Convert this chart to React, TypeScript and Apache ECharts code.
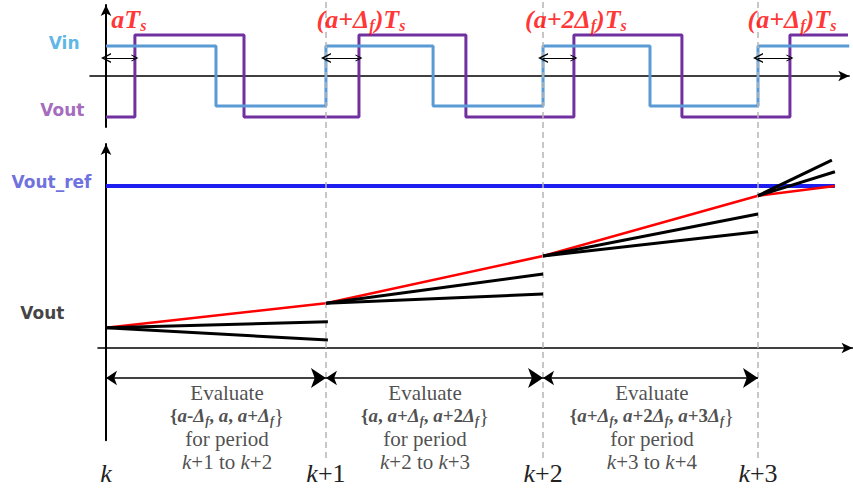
import React, { useEffect, useRef } from "react";
import * as echarts from "echarts";

// ---------- data (time in switching periods, k = 0) ----------
const periodX = [0, 1.012, 2.011, 3.0];
const periodLabels = ["k", "k+1", "k+2", "k+3"];

// top panel: square waves (normalised amplitude)
const vinEdges = [0, 0.506, 1.012, 1.505, 2.011, 2.503, 3.0, 3.42];
const vinLevels = [1, -1, 1, -1, 1, -1, 1, 1];
const voutEdges = [0, 0.133, 0.635, 1.164, 1.656, 2.153, 2.65, 3.147, 3.414];
const voutLevels = [-1.37, 1.37, -1.37, 1.37, -1.37, 1.37, -1.37, 1.37, 1.37];
const phaseSteps = [0, 1, 2, 1]; // a + n*Δf for each period
const phaseArrowY = 0.6;
const phaseLabelY = 1.87;

// bottom panel: output voltage trajectories
const refLevel = 100;
const refEndX = 3.354;
const trajX = [0, 1.012, 2.011, 3.0, 3.354];
const trajY = [12.5, 27.6, 56.8, 94.0, 100];
const candEndX = [[1.021, 1.021], [2.011, 2.011], [3.0, 3.0], [3.34, 3.354]];
const candEndY = [[16.2, 4.9], [45.7, 33.3], [82.7, 71.8], [116, 108.8]];
const candidateSets = [[-1, 0, 1], [0, 1, 2], [1, 2, 3]];
const evalX = [0.557, 1.468, 2.512];
const evalArrowY = -18.5;

// ---------- layout ----------
const W = 853;
const X0 = 106;
const PX = 217.33;
const topX = [-0.074, 3.42];
const botX = [-0.037, 3.435];
const topY = [-1.7, 2.37];
const PYT = 30;
const botY = [-57, 126];
const PYB = 1.62;

const serif = "Times New Roman, Liberation Serif, Tinos, Nimbus Roman, DejaVu Serif, serif";
const sans = "DejaVu Sans, sans-serif";

const phaseText = (n: number) => {
  if (n === 0) return "{ri|aT}{rs|s}";
  return `{ri|(a+${n > 1 ? n : ""}Δ}{rs|f}{ri|)T}{rs|s}`;
};
const termText = (n: number) => {
  if (n === 0) return "{bi|a}";
  const sign = n > 0 ? "+" : "-";
  const mult = Math.abs(n) > 1 ? String(Math.abs(n)) : "";
  return `{bi|a}{b|${sign}${mult}}{bi|Δ}{bs|f}`;
};
const evalText = (i: number) => {
  const set = candidateSets[i];
  const terms = set.map(termText).join("{b|, }");
  return [
    "{r|Evaluate}",
    "{b|{}" + terms + "{b|}}",
    "{r|for period}",
    `{ii|k}{r|+${i + 1} to }{ii|k}{r|+${i + 2}}`,
  ].join("\n");
};

const tok = (o: any) => ({ fontFamily: serif, fontStyle: "normal", fontWeight: "normal", color: "#222", ...o });

const redRich = {
  ri: tok({ fontStyle: "italic", fontWeight: "bold", fontSize: 26, color: "#ff0000", lineHeight: 28 }),
  rs: tok({ fontStyle: "italic", fontWeight: "bold", fontSize: 16, color: "#ff0000", lineHeight: 12, verticalAlign: "bottom" }),
};
const evalRich = {
  r: tok({ fontSize: 21, lineHeight: 23 }),
  b: tok({ fontSize: 19, fontWeight: "bold", lineHeight: 23 }),
  bi: tok({ fontSize: 19, fontWeight: "bold", fontStyle: "italic", lineHeight: 23 }),
  bs: tok({ fontSize: 12, fontWeight: "bold", fontStyle: "italic", lineHeight: 14, verticalAlign: "bottom" }),
  ii: tok({ fontSize: 21, fontStyle: "italic", lineHeight: 23 }),
};

const chevron = "path://M0,10 L5,0 L10,10 L8.4,10 L5,3.2 L1.6,10 Z";

const buildOption = () => {
  const vinData = vinEdges.map((x, i) => [x, vinLevels[i]]);
  const voutData = voutEdges.map((x, i) => [x, voutLevels[i]]);
  const voutRise = voutEdges.filter((_, i) => i % 2 === 1);
  const phaseArrows = periodX.map((x, i) => ({ coords: [[x, phaseArrowY], [voutRise[i], phaseArrowY]] }));
  const phaseLabels = voutRise.map((x, i) => ({
    value: [x, phaseLabelY],
    label: { formatter: () => phaseText(phaseSteps[i]), offset: [i === 0 ? -6 : 2, 0] },
  }));

  const trajData = trajX.map((x, i) => [x, trajY[i]]);
  const candLines: any[] = [];
  candEndX.forEach((ends, i) => {
    ends.forEach((ex, j) => {
      candLines.push({ coords: [[trajX[i], trajY[i]], [ex, candEndY[i][j]]] });
    });
  });
  const evalArrows = periodX.slice(0, 3).map((x, i) => ({ coords: [[x, evalArrowY], [periodX[i + 1], evalArrowY]] }));
  const evalLabels = evalX.map((x, i) => ({ value: [x, evalArrowY], label: { formatter: () => evalText(i) } }));

  const axisArrow = (w: number) => ({
    show: true,
    onZero: true,
    symbol: ["none", "arrow"],
    symbolSize: [8, 11],
    lineStyle: { color: "#000", width: w },
  });
  const hiddenParts = { axisTick: { show: false }, axisLabel: { show: false }, splitLine: { show: false } };

  return {
    animation: false,
    backgroundColor: "#fff",
    grid: [
      { left: X0 + topX[0] * PX, right: W - (X0 + topX[1] * PX), top: 76 - topY[1] * PYT, height: (topY[1] - topY[0]) * PYT },
      { left: X0 + botX[0] * PX, right: W - (X0 + botX[1] * PX), top: 348 - botY[1] * PYB, height: (botY[1] - botY[0]) * PYB },
      { left: X0 + botX[0] * PX, right: W - (X0 + botX[1] * PX), top: 0, height: 458 },
    ],
    xAxis: [
      { type: "value", gridIndex: 0, min: topX[0], max: topX[1], axisLine: axisArrow(1.5), ...hiddenParts },
      { type: "value", gridIndex: 1, min: botX[0], max: botX[1], axisLine: axisArrow(1.5), ...hiddenParts },
      {
        type: "value", gridIndex: 2, min: botX[0], max: botX[1], position: "bottom",
        axisLine: { show: false, onZero: false }, axisTick: { show: false }, splitLine: { show: false },
        axisLabel: {
          show: true,
          customValues: periodX,
          margin: 2,
          fontFamily: serif,
          fontSize: 26,
          formatter: (v: number) => {
            const idx = periodX.findIndex((p) => Math.abs(p - v) < 1e-6);
            const s = periodLabels[idx] || "";
            return s.length > 1 ? `{i|k}{n|${s.slice(1)}}` : "{i|k}";
          },
          rich: {
            i: tok({ fontStyle: "italic", fontSize: 26, lineHeight: 26 }),
            n: tok({ fontSize: 26, lineHeight: 26 }),
          },
        },
      },
    ],
    yAxis: [
      { type: "value", gridIndex: 0, min: topY[0], max: topY[1], axisLine: axisArrow(2), ...hiddenParts },
      { type: "value", gridIndex: 1, min: botY[0], max: botY[1], axisLine: axisArrow(2), ...hiddenParts },
      { type: "value", gridIndex: 2, min: 0, max: 1, show: false },
    ],
    series: [
      {
        type: "line", xAxisIndex: 2, yAxisIndex: 2, data: [[0, 0]], showSymbol: false, lineStyle: { opacity: 0 }, z: 1, silent: true,
        markLine: {
          silent: true, symbol: ["none", "none"], label: { show: false },
          lineStyle: { color: "#b5b5b5", type: [6, 4], width: 1.5 },
          data: periodX.slice(1).map((v) => ({ xAxis: v })),
        },
      },
      { type: "line", xAxisIndex: 0, yAxisIndex: 0, step: "end", data: voutData, showSymbol: false, lineStyle: { color: "#7030A0", width: 3 }, z: 3 },
      { type: "line", xAxisIndex: 0, yAxisIndex: 0, step: "end", data: vinData, showSymbol: false, lineStyle: { color: "#5B9BD5", width: 3 }, z: 4 },
      {
        type: "lines", coordinateSystem: "cartesian2d", xAxisIndex: 0, yAxisIndex: 0, data: phaseArrows,
        symbol: [chevron, chevron], symbolSize: [10, 7], lineStyle: { color: "#000", width: 1.2, opacity: 1 }, z: 5,
      },
      {
        type: "scatter", xAxisIndex: 0, yAxisIndex: 0, data: phaseLabels, symbolSize: 1, itemStyle: { color: "transparent" }, clip: false,
        label: { show: true, position: "inside", fontFamily: serif, fontStyle: "italic", fontWeight: "bold", fontSize: 26, color: "#ff0000", rich: redRich }, z: 6,
      },
      {
        type: "scatter", xAxisIndex: 0, yAxisIndex: 0, symbolSize: 1, itemStyle: { color: "transparent" }, clip: false, z: 6,
        data: [
          { value: [0, vinLevels[0]], label: { formatter: "Vin", color: "#35A3E0", offset: [0, -3], distance: 26 } },
          { value: [0, voutLevels[0]], label: { formatter: "Vout", color: "#8E44AD", offset: [0, -7], distance: 21 } },
        ],
        label: { show: true, position: "left", fontFamily: sans, fontWeight: "bold", fontSize: 17 },
      },
      { type: "line", xAxisIndex: 1, yAxisIndex: 1, data: [[0, refLevel], [refEndX, refLevel]], showSymbol: false, lineStyle: { color: "#1E1EF0", width: 4 }, z: 3 },
      { type: "line", xAxisIndex: 1, yAxisIndex: 1, data: trajData, showSymbol: false, lineStyle: { color: "#ff0000", width: 2.5 }, z: 4 },
      {
        type: "lines", coordinateSystem: "cartesian2d", xAxisIndex: 1, yAxisIndex: 1, data: candLines,
        symbol: ["none", "none"], lineStyle: { color: "#000", width: 3, opacity: 1 }, z: 5,
      },
      {
        type: "lines", coordinateSystem: "cartesian2d", xAxisIndex: 1, yAxisIndex: 1, data: evalArrows,
        symbol: ["arrow", "arrow"], symbolSize: [11, 15], lineStyle: { color: "#000", width: 1.5, opacity: 1 }, z: 5,
      },
      {
        type: "scatter", xAxisIndex: 1, yAxisIndex: 1, data: evalLabels, symbolSize: 1, itemStyle: { color: "transparent" }, clip: false,
        label: { show: true, position: "bottom", distance: 3, align: "center", fontFamily: serif, fontSize: 21, color: "#222", rich: evalRich }, z: 6,
      },
      {
        type: "scatter", xAxisIndex: 1, yAxisIndex: 1, symbolSize: 1, itemStyle: { color: "transparent" }, clip: false, z: 6,
        data: [
          { value: [0, refLevel], label: { formatter: "Vout_ref", color: "#4B4BD6", offset: [0, -4], distance: 14 } },
          { value: [0, trajY[0]], label: { formatter: "Vout", color: "#111", offset: [0, -15], distance: 41 } },
        ],
        label: { show: true, position: "left", fontFamily: sans, fontWeight: "bold", fontSize: 17 },
      },
    ],
  };
};

export default function App() {
  const ref = useRef<HTMLDivElement>(null);
  useEffect(() => {
    if (!ref.current) return;
    const chart = echarts.init(ref.current, null, { renderer: "svg" });
    chart.setOption(buildOption() as any);
    return () => chart.dispose();
  }, []);
  return <div ref={ref} style={{ position: "fixed", left: 0, top: 0, width: W, height: 490, background: "#fff" }} />;
}
